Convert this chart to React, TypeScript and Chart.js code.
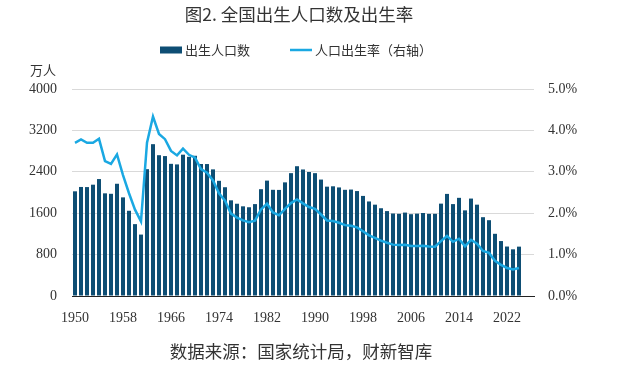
import React, { useEffect, useRef } from "react";
import { Chart, registerables } from "chart.js";

Chart.register(...registerables);

const TITLE = "图2. 全国出生人口数及出生率";
const SOURCE = "数据来源：国家统计局，财新智库";
const UNIT_LEFT = "万人";
const SERIES_BIRTHS = "出生人口数";
const SERIES_RATE = "人口出生率（右轴）";

const years = [
  "1950", "1951", "1952", "1953", "1954", "1955", "1956", "1957", "1958", "1959",
  "1960", "1961", "1962", "1963", "1964", "1965", "1966", "1967", "1968", "1969",
  "1970", "1971", "1972", "1973", "1974", "1975", "1976", "1977", "1978", "1979",
  "1980", "1981", "1982", "1983", "1984", "1985", "1986", "1987", "1988", "1989",
  "1990", "1991", "1992", "1993", "1994", "1995", "1996", "1997", "1998", "1999",
  "2000", "2001", "2002", "2003", "2004", "2005", "2006", "2007", "2008", "2009",
  "2010", "2011", "2012", "2013", "2014", "2015", "2016", "2017", "2018", "2019",
  "2020", "2021", "2022", "2023", "2024", "2025", "2026",
];

// 出生人口（万人）
const births = [
  2023, 2107, 2105, 2151, 2260, 1984, 1975, 2169, 1906, 1647,
  1389, 1187, 2451, 2934, 2721, 2704, 2554, 2543, 2731, 2690,
  2710, 2551, 2550, 2447, 2226, 2102, 1849, 1783, 1733, 1715,
  1776, 2064, 2230, 2052, 2050, 2196, 2374, 2508, 2445, 2396,
  2374, 2250, 2113, 2120, 2098, 2052, 2057, 2028, 1934, 1827,
  1765, 1696, 1641, 1594, 1588, 1612, 1581, 1591, 1604, 1587,
  1588, 1785, 1973, 1776, 1897, 1655, 1883, 1765, 1523, 1465,
  1202, 1062, 956, 902, 954, null, null,
];

// 人口出生率（%）
const birthRate = [
  3.70, 3.78, 3.70, 3.70, 3.797, 3.26, 3.19, 3.42, 2.922, 2.482,
  2.086, 1.802, 3.702, 4.334, 3.914, 3.788, 3.505, 3.396, 3.559, 3.411,
  3.343, 3.065, 2.977, 2.793, 2.482, 2.301, 1.991, 1.893, 1.825, 1.782,
  1.821, 2.091, 2.228, 2.019, 1.95, 2.104, 2.244, 2.333, 2.237, 2.149,
  2.106, 1.968, 1.824, 1.809, 1.77, 1.712, 1.698, 1.657, 1.564, 1.464,
  1.403, 1.338, 1.286, 1.241, 1.229, 1.24, 1.209, 1.21, 1.214, 1.195,
  1.19, 1.327, 1.45, 1.308, 1.383, 1.199, 1.357, 1.264, 1.086, 1.041,
  0.852, 0.752, 0.677, 0.639, 0.677, null, null,
];

const leftTicks = { min: 0, max: 4000, step: 800 };
const rightTicks = { min: 0, max: 5, step: 1 };

const BAR_COLOR = "#0E4E74";
const LINE_COLOR = "#1AA8E2";
const TEXT_COLOR = "#333333";
const CJK = '"Noto Sans CJK SC", sans-serif';
const NUM = '"Liberation Serif", "Noto Sans CJK SC", serif';

const decorPlugin = {
  id: "decor",
  afterDraw(chart: any) {
    const ctx = chart.ctx;
    const ca = chart.chartArea;
    const cx = (ca.left + ca.right) / 2;
    ctx.save();
    ctx.fillStyle = TEXT_COLOR;
    ctx.textBaseline = "middle";

    // title
    ctx.textAlign = "center";
    ctx.font = `17.5px ${CJK}`;
    ctx.fillText(TITLE, cx - 4, 14);

    // footer
    ctx.font = `17.5px ${CJK}`;
    ctx.fillText(SOURCE, cx - 2, 351);

    // unit label
    ctx.textAlign = "right";
    ctx.font = `13px ${CJK}`;
    ctx.fillText(UNIT_LEFT, ca.left - 16, 70);

    // legend
    ctx.font = `13px ${CJK}`;
    ctx.textAlign = "left";
    const w1 = ctx.measureText(SERIES_BIRTHS).width;
    const w2 = ctx.measureText(SERIES_RATE).width;
    const sw = 22;
    const gapText = 3;
    const gapItems = 40;
    const total = sw + gapText + w1 + gapItems + sw + gapText + w2;
    let x = cx - 7 - total / 2;
    const ly = 50;
    ctx.fillStyle = BAR_COLOR;
    ctx.fillRect(x, ly - 3.5, sw, 7);
    x += sw + gapText;
    ctx.fillStyle = TEXT_COLOR;
    ctx.fillText(SERIES_BIRTHS, x, ly);
    x += w1 + gapItems;
    ctx.strokeStyle = LINE_COLOR;
    ctx.lineWidth = 2.5;
    ctx.beginPath();
    ctx.moveTo(x, ly);
    ctx.lineTo(x + sw, ly);
    ctx.stroke();
    x += sw + gapText;
    ctx.fillText(SERIES_RATE, x, ly);
    ctx.restore();
  },
};

export default function App() {
  const canvasRef = useRef<HTMLCanvasElement | null>(null);

  useEffect(() => {
    document.body.style.margin = "0";
    const canvas = canvasRef.current;
    if (!canvas) return;
    const chart = new Chart(canvas, {
      type: "bar",
      data: {
        labels: years,
        datasets: [
          {
            type: "line",
            label: SERIES_RATE,
            data: birthRate,
            yAxisID: "y1",
            borderColor: LINE_COLOR,
            backgroundColor: LINE_COLOR,
            borderWidth: 2.5,
            pointRadius: 0,
            tension: 0,
            order: 0,
          } as any,
          {
            type: "bar",
            label: SERIES_BIRTHS,
            data: births,
            yAxisID: "y",
            backgroundColor: BAR_COLOR,
            categoryPercentage: 1,
            barPercentage: 0.66,
            order: 1,
          },
        ],
      },
      options: {
        animation: false,
        responsive: true,
        maintainAspectRatio: false,
        layout: { padding: { top: 89, left: 0, right: 0, bottom: 0 } },
        plugins: {
          legend: { display: false },
          title: { display: false },
          tooltip: { enabled: false },
        },
        scales: {
          x: {
            offset: true,
            grid: { display: false, drawTicks: false },
            border: { display: true, color: "#222222", width: 1 },
            ticks: {
              autoSkip: false,
              maxRotation: 0,
              minRotation: 0,
              padding: 14,
              color: TEXT_COLOR,
              font: { family: NUM, size: 14 },
              callback: (_v: any, i: number) => (i % 8 === 0 ? years[i] : ""),
            },
            afterFit: (s: any) => {
              s.height = 70;
            },
          },
          y: {
            position: "left",
            min: leftTicks.min,
            max: leftTicks.max,
            grid: { color: "#D9D9D9", lineWidth: 1, drawTicks: false },
            border: { display: false },
            ticks: {
              stepSize: leftTicks.step,
              padding: 15,
              color: TEXT_COLOR,
              font: { family: NUM, size: 14 },
              callback: (v: any) => String(v),
            },
            afterFit: (s: any) => {
              s.width = 72;
            },
          },
          y1: {
            position: "right",
            min: rightTicks.min,
            max: rightTicks.max,
            grid: { display: false, drawTicks: false },
            border: { display: false },
            ticks: {
              stepSize: rightTicks.step,
              padding: 14,
              color: TEXT_COLOR,
              font: { family: NUM, size: 14 },
              callback: (v: any) => Number(v).toFixed(1) + "%",
            },
            afterFit: (s: any) => {
              s.width = 101;
            },
          },
        },
      },
      plugins: [decorPlugin],
    });
    return () => chart.destroy();
  }, []);

  return (
    <div style={{ position: "relative", width: 635, height: 366 }}>
      <canvas ref={canvasRef} />
    </div>
  );
}
